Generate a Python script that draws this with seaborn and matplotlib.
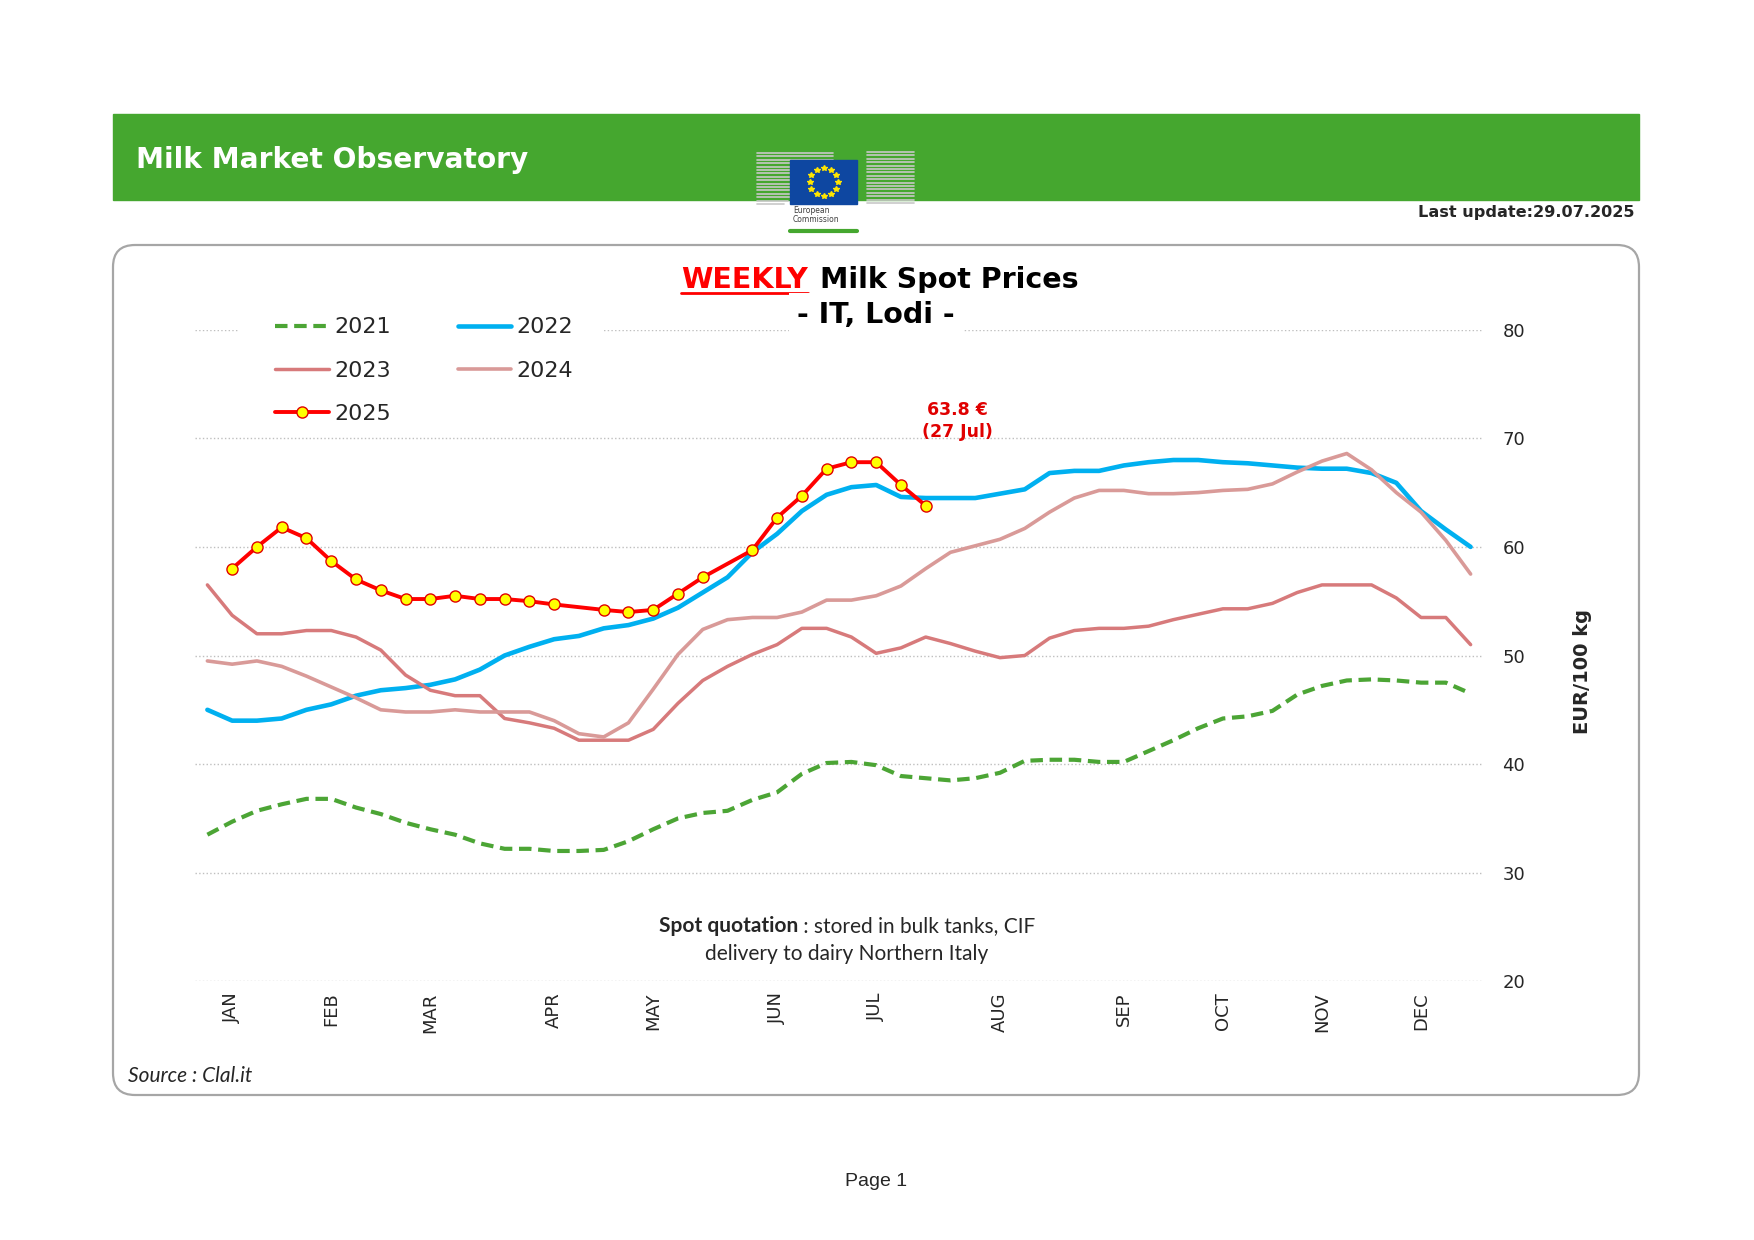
import numpy as np
import matplotlib
matplotlib.use('Agg')
import matplotlib.pyplot as plt
import matplotlib.patches as mpatches
import matplotlib.transforms as mtransforms
from matplotlib.lines import Line2D
import seaborn as sns

# weekly spot prices, EUR/100 kg (week index 0..51)
weeks = list(range(52))

p2021 = [33.5, 34.7, 35.7, 36.3, 36.8, 36.8, 36.0, 35.4, 34.6, 34.0, 33.5, 32.7, 32.2,
         32.2, 32.0, 32.0, 32.1, 32.9, 34.0, 35.0, 35.5, 35.7, 36.7, 37.4, 39.1, 40.1,
         40.2, 39.9, 38.9, 38.7, 38.5, 38.7, 39.2, 40.3, 40.4, 40.4, 40.2, 40.2, 41.2,
         42.2, 43.3, 44.2, 44.4, 44.9, 46.4, 47.2, 47.7, 47.8, 47.7, 47.5, 47.5, 46.5]
p2022 = [45.0, 44.0, 44.0, 44.2, 45.0, 45.5, 46.3, 46.8, 47.0, 47.3, 47.8, 48.7, 50.0,
         50.8, 51.5, 51.8, 52.5, 52.8, 53.4, 54.4, 55.8, 57.2, 59.5, 61.2, 63.3, 64.8,
         65.5, 65.7, 64.6, 64.5, 64.5, 64.5, 64.9, 65.3, 66.8, 67.0, 67.0, 67.5, 67.8,
         68.0, 68.0, 67.8, 67.7, 67.5, 67.3, 67.2, 67.2, 66.8, 65.9, 63.3, 61.6, 60.0]
p2023 = [56.5, 53.7, 52.0, 52.0, 52.3, 52.3, 51.7, 50.5, 48.2, 46.8, 46.3, 46.3, 44.2,
         43.8, 43.3, 42.2, 42.2, 42.2, 43.2, 45.6, 47.7, 49.0, 50.1, 51.0, 52.5, 52.5,
         51.7, 50.2, 50.7, 51.7, 51.1, 50.4, 49.8, 50.0, 51.6, 52.3, 52.5, 52.5, 52.7,
         53.3, 53.8, 54.3, 54.3, 54.8, 55.8, 56.5, 56.5, 56.5, 55.3, 53.5, 53.5, 51.0]
p2024 = [49.5, 49.2, 49.5, 49.0, 48.1, 47.1, 46.1, 45.0, 44.8, 44.8, 45.0, 44.8, 44.8,
         44.8, 44.0, 42.8, 42.5, 43.8, 46.9, 50.1, 52.4, 53.3, 53.5, 53.5, 54.0, 55.1,
         55.1, 55.5, 56.4, 58.0, 59.5, 60.1, 60.7, 61.7, 63.2, 64.5, 65.2, 65.2, 64.9,
         64.9, 65.0, 65.2, 65.3, 65.8, 66.9, 67.9, 68.6, 67.1, 65.0, 63.2, 60.6, 57.5]
weeks_2025 = [1, 2, 3, 4, 5, 6, 7, 8, 9, 10, 11, 12, 13, 14,
              16, 17, 18, 19, 20, 22, 23, 24, 25, 26, 27, 28, 29]
p2025 = [58.0, 60.0, 61.8, 60.8, 58.7, 57.0, 56.0, 55.2, 55.2, 55.5, 55.2, 55.2, 55.0, 54.7,
         54.2, 54.0, 54.2, 55.7, 57.2, 59.7, 62.7, 64.7, 67.2, 67.8, 67.8, 65.7, 63.8]

month_weeks = [1, 5, 9, 14, 18, 23, 27, 32, 37, 41, 45, 49]
month_labels = ['JAN', 'FEB', 'MAR', 'APR', 'MAY', 'JUN', 'JUL', 'AUG', 'SEP', 'OCT', 'NOV', 'DEC']
y_ticks = [20, 30, 40, 50, 60, 70, 80]

W, H = 1754, 1240


def fx(x):
    return x / W


def fy(y):
    return 1 - y / H


sns.set_style('white')
plt.rcParams['font.family'] = ['DejaVu Sans']

fig = plt.figure(figsize=(W / 100, H / 100), dpi=100)
fig.patch.set_facecolor('white')

# green banner
fig.add_artist(mpatches.Rectangle((fx(113), fy(200)), fx(1639) - fx(113), 86 / H,
                                  transform=fig.transFigure, color='#45A72F', zorder=0))
fig.text(fx(136), fy(160), 'Milk Market Observatory', color='white', fontsize=20.2,
         weight='bold', va='center', ha='left')
fig.text(fx(1635), fy(213), 'Last update:29.07.2025', fontsize=11.6, weight='bold',
         ha='right', va='center')

# EU commission logo (rough)
for k in range(16):
    y = 204 - k * 3.4
    fig.add_artist(Line2D([fx(757), fx(757 + 76 * min(1, 0.35 + k / 16))], [fy(y), fy(y)],
                          transform=fig.transFigure, color='#C8C8C8', lw=1.2))
    fig.add_artist(Line2D([fx(867), fx(914)], [fy(y - 1), fy(y - 1)],
                          transform=fig.transFigure, color='#C8C8C8', lw=1.2))
fig.add_artist(mpatches.Rectangle((fx(790), fy(204)), fx(857) - fx(790), 44 / H,
                                  transform=fig.transFigure, color='#0E47A1', zorder=3))
ang = np.linspace(0, 2 * np.pi, 13)[:-1]
fig.add_artist(Line2D(fx(823.5 + 14 * np.cos(ang)), fy(182 + 14 * np.sin(ang)), ls='none',
                      marker='*', ms=4, color='#FFE500', transform=fig.transFigure, zorder=4))
fig.text(fx(793), fy(215), 'European\nCommission', fontsize=5.5, color='#404040',
         va='center', ha='left', linespacing=1.1)
fig.add_artist(Line2D([fx(790), fx(857)], [fy(231), fy(231)], transform=fig.transFigure,
                      color='#45A72F', lw=3))

# rounded frame
fig.add_artist(mpatches.FancyBboxPatch((113, H - 1095), 1639 - 113, 1095 - 245,
                                       boxstyle='round,pad=0,rounding_size=22',
                                       transform=mtransforms.IdentityTransform(),
                                       facecolor='white', edgecolor='#A6A6A6', lw=1.6, zorder=0))

ax = fig.add_axes([fx(195), fy(981.3), (1483 - 195) / W, (981.3 - 329.7) / H])
ax.set_facecolor('none')

sns.lineplot(x=weeks, y=p2021, ax=ax, color='#4CA535', lw=3.0, linestyle=(0, (3, 1.6)), label='2021')
sns.lineplot(x=weeks, y=p2022, ax=ax, color='#00B0F0', lw=3.3, label='2022')
sns.lineplot(x=weeks, y=p2023, ax=ax, color='#D77A7B', lw=2.5, label='2023')
sns.lineplot(x=weeks, y=p2024, ax=ax, color='#D99A98', lw=2.6, label='2024')
sns.lineplot(x=weeks_2025, y=p2025, ax=ax, color='#FF0000', lw=2.8, marker='o', markersize=8,
             markerfacecolor='#FFFF00', markeredgecolor='#E00000', markeredgewidth=1.0, label='2025')

ax.set_xlim(-0.5, 51.5)
ax.set_ylim(20, 80)
ax.set_yticks(y_ticks)
ax.yaxis.tick_right()
ax.tick_params(axis='y', length=0, pad=14, labelsize=13)
ax.set_xticks(month_weeks)
ax.set_xticklabels(month_labels, rotation=90)
ax.tick_params(axis='x', length=0, pad=8, labelsize=13)
ax.grid(axis='y', color='#BFBFBF', linestyle=':', lw=1)
ax.grid(axis='x', visible=False)
for s in ax.spines.values():
    s.set_visible(False)
ax.set_xlabel('')
ax.set_ylabel('')

# white patch hiding the top gridline behind the legend and the title
ax.add_patch(mpatches.Rectangle((fx(238), fy(340)), fx(604) - fx(238), 26 / H,
                                transform=fig.transFigure, facecolor='white',
                                edgecolor='none', zorder=1, clip_on=False))

lines = ax.get_lines()
lab = {l.get_label(): l for l in lines}
order = ['2021', '2023', '2025', '2022', '2024']
leg = ax.legend([lab[o] for o in order], order, ncol=2, loc='upper left',
                bbox_to_anchor=(fx(271), fy(313)), bbox_transform=fig.transFigure,
                fontsize=16, frameon=False,
                handlelength=2.4, handletextpad=0.25, columnspacing=3.0, labelspacing=1.05,
                borderpad=0.2, borderaxespad=0)
leg.set_zorder(5)

ax.text(30.3, 71.6, '63.8 €\n(27 Jul)', color='#E00000', fontsize=12.5, weight='bold',
        ha='center', va='center', linespacing=1.3)

fig.text(fx(1582), fy(671), 'EUR/100 kg', rotation=90, fontsize=14, weight='bold',
         ha='center', va='center')

# title
t_week = fig.text(fx(808), fy(280), 'WEEKLY', color='#FF0000', fontsize=20.5, weight='bold',
                  ha='right', va='center', zorder=6)
fig.text(fx(820), fy(280), 'Milk Spot Prices', color='black', fontsize=20.5, weight='bold',
         ha='left', va='center', zorder=6)
fig.text(fx(876), fy(315), '- IT, Lodi -', color='black', fontsize=20.5, weight='bold',
         ha='center', va='center', zorder=6,
         bbox=dict(facecolor='white', edgecolor='none', pad=6))

# note
t1 = fig.text(0, fy(932), 'Spot quotation', fontsize=15, weight='bold', family='Lato',
              va='baseline', ha='left')
t2 = fig.text(0, fy(932), ' : stored in bulk tanks, CIF', fontsize=15, family='Lato',
              va='baseline', ha='left')
fig.text(fx(847), fy(960), 'delivery to dairy Northern Italy', fontsize=15, family='Lato',
         va='baseline', ha='center')
fig.text(fx(128), fy(1076), 'Source : Clal.it', fontsize=15, family='Lato', style='italic',
         va='center', ha='left')
fig.text(fx(876), fy(1181), 'Page 1', fontsize=14, family='Liberation Sans',
         va='center', ha='center')

fig.canvas.draw()
r = fig.canvas.get_renderer()
w1 = t1.get_window_extent(r).width
w2 = t2.get_window_extent(r).width
x0 = 847 - (w1 + w2) / 2
t1.set_x(x0 / W)
t2.set_x((x0 + w1) / W)

bb = t_week.get_window_extent(r)
fig.add_artist(Line2D([bb.x0, bb.x1], [bb.y0 + 1, bb.y0 + 1], color='#FF0000', lw=2,
                      transform=mtransforms.IdentityTransform()))

fig.savefig('out.png', dpi=100)
